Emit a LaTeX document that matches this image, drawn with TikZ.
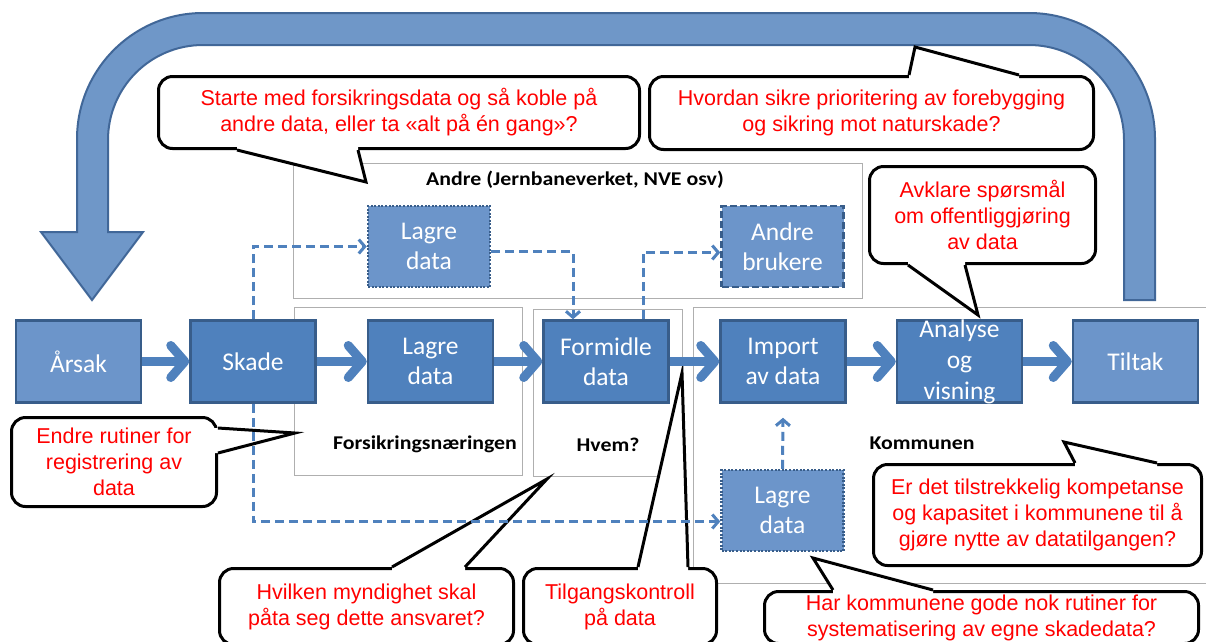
\documentclass[tikz,border=0pt]{standalone}
\usepackage{fontspec}
\setmainfont{Carlito}
\newfontfamily\arialf{Liberation Sans}
\newfontfamily\lblf[FakeStretch=1.12]{Carlito}
\usetikzlibrary{arrows.meta,calc}
\pgfdeclarelayer{bg}
\pgfdeclarelayer{mid}
\pgfsetlayers{bg,mid,main}
\definecolor{boxblue}{RGB}{79,129,189}
\definecolor{boxedge}{RGB}{56,93,138}
\definecolor{lightblue}{RGB}{108,149,202}
\definecolor{arrowfill}{RGB}{111,151,200}
\definecolor{arrowedge}{RGB}{65,103,152}
\definecolor{framegray}{RGB}{175,175,175}
\definecolor{qred}{RGB}{255,0,0}
\newcommand\calloutptr[4]{%
  \fill[white] ($#1+#4$) -- #1 -- #2 -- #3 -- ($#3+#4$) -- cycle;
  \draw[ptrline] #1 -- #2 -- #3;}
\begin{document}
\begin{tikzpicture}[x=1pt,y=-1pt,
  proc/.style={draw=boxedge,line width=2.5pt,fill=boxblue,minimum width=125pt,minimum height=82pt,inner sep=0pt,text=white,align=center,font=\fontsize{25.5}{30}\selectfont},
  proclight/.style={proc,fill=lightblue},
  dotbox/.style={proclight,minimum width=122pt,minimum height=81pt,dash pattern=on 2pt off 1.6pt},
  dashbox/.style={proclight,minimum width=122pt,minimum height=81pt,dash pattern=on 7pt off 3pt},
  proctext/.style={text=white,align=center,inner sep=0pt,font=\fontsize{25.5}{31}\selectfont},
  group/.style={draw=framegray,line width=1pt,inner sep=0pt},
  glabel/.style={font=\lblf\bfseries\fontsize{19.5}{22}\selectfont,inner sep=0pt},
  callout/.style={draw=black,line width=3pt,fill=white,rounded corners=14pt,text=qred,align=center,inner sep=0pt,font=\arialf\fontsize{21.5}{26}\selectfont},
  ptrline/.style={draw=black,line width=3pt},
  flow/.style={draw=boxblue,line width=9pt,-{Straight Barb[length=14pt,width=32pt,round]}},
  conn/.style={draw=boxblue,line width=3pt,dash pattern=on 9pt off 5pt,-{Straight Barb[length=6pt,width=14pt]}},
  uarrow/.style={fill=arrowfill,draw=arrowedge,line width=2pt,line join=miter}
]
\path[use as bounding box] (0,0) rectangle (1206,641);
\clip (0,0) rectangle (1206,641);

% ---------- process boxes ----------
\node[proclight] (arsak)    at (78.5,361.5) {Årsak};
\node[proc]      (skade)    at (253,361.5)  {Skade};
\node[proc]      (lagreF)   at (430.5,361.5) {Lagre\\data};
\node[proc]      (formidle) at (606,361.5)  {Formidle\\data};
\node[proc]      (importN)  at (783,361.5)  {Import\\av data};
\node[proc]      (analyse)  at (959.5,361.5) {};
\node[proctext]  (analyseT) at (959.5,362)  {Analyse\\og\\visning};
\node[proclight] (tiltak)   at (1135.5,361.5) {Tiltak};
\node[dotbox]    (lagreA)   at (429,246.5)  {Lagre\\data};
\node[dashbox,draw=boxedge] (brukere) at (782.5,246.5) {Andre\\brukere};
\node[dotbox]    (lagreK)   at (782.5,510.5) {Lagre\\data};

% ---------- flow arrows ----------
\draw[flow] (arsak) -- (skade);
\draw[flow] (skade) -- (lagreF);
\draw[flow] (lagreF) -- (formidle);
\draw[flow] (formidle) -- (importN);
\draw[flow] (importN) -- (analyse);
\draw[flow] (analyse) -- (tiltak);

% ---------- dashed connectors ----------
\begin{pgfonlayer}{mid}
\draw[conn] (skade.north) |- (lagreA.west);
\draw[conn] (skade.south) |- ([yshift=-11pt]lagreK.west);
\draw[conn] ([yshift=-5pt]lagreA.east) -| ([xshift=-33pt]formidle.north);
\draw[conn] ([xshift=37pt]formidle.north) |- ([yshift=-6pt]brukere.west);
\draw[conn] (lagreK.north) -- ([yshift=-14pt]importN.south);
\end{pgfonlayer}

% ---------- background: big arrow, groups, callouts ----------
\begin{pgfonlayer}{bg}
\path[uarrow] (92,300) -- (41,232) -- (77,232) -- (77,139)
  .. controls (77,69.4) and (133.4,13) .. (203,13) -- (1029,13)
  .. controls (1098.6,13) and (1155,69.4) .. (1155,139) -- (1155,300)
  -- (1124,300) -- (1124,140)
  .. controls (1124,87.5) and (1081.5,45) .. (1029,45) -- (203,45)
  .. controls (150.5,45) and (108,87.5) .. (108,140) -- (108,232)
  -- (143,232) -- cycle;

\node[group,minimum width=569pt,minimum height=135pt] (gAndre) at (577.5,230.5) {};
\node[group,minimum width=228pt,minimum height=168pt] (gFors) at (408,391) {};
\node[group,minimum width=149pt,minimum height=167pt] (gHvem) at (607.5,392.5) {};
\node[group,minimum width=522pt,minimum height=276pt] (gKomm) at (954,445) {};
\node[glabel] (lAndre) at (575,180) {Andre (Jernbaneverket, NVE osv)};
\node[glabel] (lFors)  at (425,444) {Forsikringsnæringen};
\node[glabel] (lHvem)  at (608,445) {Hvem?};
\node[glabel] (lKomm)  at (922,443) {Kommunen};

\node[callout,minimum width=481pt,minimum height=72pt] (cA) at (399,112.5)
  {Starte med forsikringsdata og så koble på\\andre data, eller ta «alt på én gang»?};
\coordinate (tipA) at (366,182);
\calloutptr{(237,150)}{(tipA)}{(358,150)}{(0,-4)}

\node[callout,minimum width=444pt,minimum height=73pt] (cB) at (871.5,113)
  {Hvordan sikre prioritering av forebygging\\og sikring mot naturskade?};
\coordinate (tipB) at (915,47);
\calloutptr{(909,75)}{(tipB)}{(1019,75)}{(0,4)}

\node[callout,minimum width=226pt,minimum height=97pt] (cC) at (982.5,215)
  {Avklare spørsmål\\om offentliggjøring\\av data};
\coordinate (tipC) at (978,315);
\calloutptr{(908,265)}{(tipC)}{(965,265)}{(0,-4)}

\node[callout,minimum width=205pt,minimum height=89pt] (cD) at (114,462)
  {Endre rutiner for\\registrering av\\data};
\coordinate (tipD) at (295,433);
\calloutptr{(218,428)}{(tipD)}{(218,453)}{(-4,0)}

\node[callout,minimum width=328pt,minimum height=101pt] (cE) at (1037.5,515)
  {Er det tilstrekkelig kompetanse\\og kapasitet i kommunene til å\\gjøre nytte av datatilgangen?};
\coordinate (tipE) at (1064,442);
\calloutptr{(1075,463)}{(tipE)}{(1157,463)}{(0,4)}

\node[callout,minimum width=434pt,minimum height=52pt] (cF) at (981.5,617.5)
  {Har kommunene gode nok rutiner for\\systematisering av egne skadedata?};
\coordinate (tipF) at (813,558);
\calloutptr{(833,590)}{(tipF)}{(933,590)}{(0,4)}

\node[callout,minimum width=294pt,minimum height=76pt] (cG) at (366.5,606.5)
  {Hvilken myndighet skal\\påta seg dette ansvaret?};
\coordinate (tipG) at (547,479);
\calloutptr{(392,567)}{(tipG)}{(465,567)}{(0,4)}

\node[callout,minimum width=193pt,minimum height=76pt] (cH) at (620,606.5)
  {Tilgangskontroll\\på data};
\coordinate (tipH) at (682,373);
\calloutptr{(638,567)}{(tipH)}{(688,567)}{(0,4)}
\end{pgfonlayer}
\end{tikzpicture}
\end{document}
